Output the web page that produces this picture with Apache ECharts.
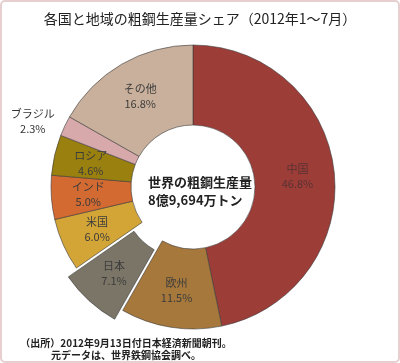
<!DOCTYPE html>
<html>
<head>
<meta charset="utf-8">
<script src="https://cdn.jsdelivr.net/npm/echarts@6/dist/echarts.min.js"></script>
<style>
html,body{margin:0;padding:0;background:#fff;}
#chart{width:400px;height:363px;}
</style>
</head>
<body>
<div id="chart"></div>
<script>
const categories = ['中国', '欧州', '日本', '米国', 'インド', 'ロシア', 'ブラジル', 'その他'];
const shares = [46.8, 11.5, 7.1, 6.0, 5.0, 4.6, 2.3, 16.8];
const explodedCategory = '日本';
const outsideLabelCategory = 'ブラジル';
const titleText = '各国と地域の粗鋼生産量シェア（2012年1～7月）';
const centerLines = ['世界の粗鋼生産量', '8億9,694万トン'];
const noteLines = ['（出所）2012年9月13日付日本経済新聞朝刊。', '元データは、世界鉄鋼協会調べ。'];

const palette = ['#9c3d38', '#a6783c', '#7a7566', '#d3a536', '#d26a31', '#9a800f', '#d7a9ab', '#c9b09c'];
const FONT = '"Noto Sans CJK JP", "Noto Sans", sans-serif';

const chart = echarts.init(document.getElementById('chart'), null, {renderer: 'canvas'});

const pieData = categories.map((name, i) => {
  const item = {
    name: name,
    value: shares[i],
    itemStyle: {color: palette[i]}
  };
  if (name === explodedCategory) item.selected = true;
  if (name === outsideLabelCategory) {
    item.label = {
      position: 'outside',
      distanceToLabelLine: 0,
      formatter: (p) => '{a|' + p.name + '}\n{a|' + p.value.toFixed(1) + '%}',
      rich: {a: {width: 46, align: 'center', fontSize: 11, lineHeight: 15, color: '#333', fontFamily: FONT}}
    };
    item.labelLine = {show: false, length: 10, length2: 0};
  }
  if (name === '中国') {
    item.label = {color: '#5a3232'};
  }
  return item;
});

const option = {
  animation: false,
  backgroundColor: '#ffffff',
  title: {
    text: titleText,
    left: 'center',
    top: 7,
    textStyle: {fontSize: 14, fontWeight: 'normal', color: '#222', fontFamily: FONT}
  },
  graphic: [
    {
      type: 'rect',
      silent: true,
      shape: {x: 1, y: 1, width: 398, height: 361, r: 4},
      style: {fill: 'none', stroke: '#e8cfcf', lineWidth: 2}
    },
    {
      type: 'text',
      silent: true,
      left: 'center',
      top: 173,
      style: {
        text: centerLines.join('\n'),
        align: 'center',
        fontSize: 13,
        fontWeight: 'bold',
        lineHeight: 18,
        fill: '#222',
        fontFamily: FONT
      },
      x: -5
    },
    {
      type: 'text',
      silent: true,
      x: 126,
      y: 337,
      style: {
        text: noteLines.join('\n'),
        align: 'center',
        fontSize: 10,
        fontWeight: 'bold',
        lineHeight: 12,
        fill: '#222',
        fontFamily: FONT
      }
    }
  ],
  series: [{
    type: 'pie',
    center: [193, 187],
    radius: [62, 142],
    startAngle: 90,
    clockwise: true,
    selectedMode: 'single',
    selectedOffset: 12,
    avoidLabelOverlap: false,
    emphasis: {disabled: true},
    itemStyle: {borderColor: '#3a3a3a', borderWidth: 0.6},
    label: {
      show: true,
      position: 'inside',
      formatter: (p) => p.name + '\n' + p.value.toFixed(1) + '%',
      fontSize: 11,
      lineHeight: 15,
      color: '#3c3c3c',
      fontFamily: FONT
    },
    labelLine: {show: false},
    data: pieData
  }]
};
chart.setOption(option);
</script>
</body>
</html>
